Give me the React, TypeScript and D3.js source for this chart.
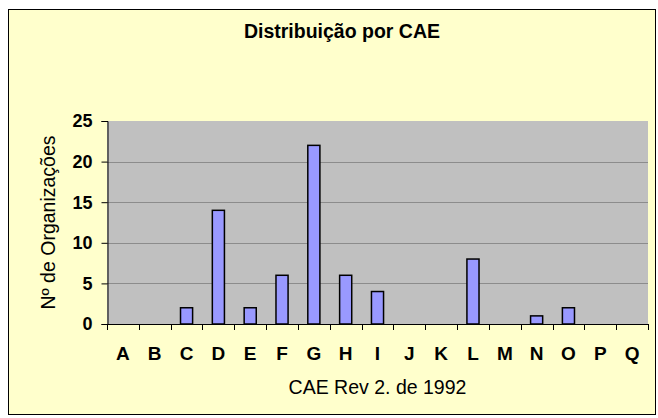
import React, { useEffect, useRef } from "react";
import * as d3 from "d3";

const categories = ["A", "B", "C", "D", "E", "F", "G", "H", "I", "J", "K", "L", "M", "N", "O", "P", "Q"];
const counts = [0, 0, 2, 14, 2, 6, 22, 6, 4, 0, 0, 8, 0, 1, 2, 0, 0];
const yTicks = [0, 5, 10, 15, 20, 25];

const App = () => {
    const svgRef = useRef<SVGSVGElement>(null);

    useEffect(() => {
        const width = 658, height = 418;
        const plot = { left: 107, right: 648, top: 121, bottom: 324 };
        const font = "Arial, 'Liberation Sans', sans-serif";

        const svg = d3.select(svgRef.current)
            .attr("width", width)
            .attr("height", height);

        svg.selectAll("*").remove();

        // chart area
        svg.append("rect")
            .attr("x", 8.5).attr("y", 9.5)
            .attr("width", 647).attr("height", 405)
            .attr("fill", "#FFFFCC")
            .attr("stroke", "#000").attr("stroke-width", 1);

        const x = d3.scaleBand()
            .domain(categories)
            .range([plot.left, plot.right])
            .paddingInner(0.62)
            .paddingOuter(0.31);

        const xTicks = d3.scaleBand()
            .domain(categories)
            .range([plot.left, plot.right]);

        const y = d3.scaleLinear()
            .domain([0, 25])
            .range([plot.bottom, plot.top]);

        // plot area
        svg.append("rect")
            .attr("x", plot.left).attr("y", plot.top)
            .attr("width", plot.right - plot.left)
            .attr("height", plot.bottom - plot.top)
            .attr("fill", "#C0C0C0");

        svg.append("g")
            .selectAll("line")
            .data(yTicks.filter(d => d > 0 && d < 25))
            .enter()
            .append("line")
            .attr("x1", plot.left).attr("x2", plot.right)
            .attr("y1", d => Math.round(y(d)) + 0.5)
            .attr("y2", d => Math.round(y(d)) + 0.5)
            .attr("stroke", "#8C8C8C")
            .attr("stroke-width", 1);

        // bars
        svg.append("g")
            .selectAll("rect")
            .data(categories.map((c, i) => ({ c, v: counts[i] })).filter(d => d.v > 0))
            .enter()
            .append("rect")
            .attr("x", d => x(d.c))
            .attr("y", d => y(d.v))
            .attr("width", x.bandwidth())
            .attr("height", d => y(0) - y(d.v))
            .attr("fill", "#9999FF")
            .attr("stroke", "#000")
            .attr("stroke-width", 1.5);

        // y axis
        const yAxis = svg.append("g")
            .attr("transform", `translate(${plot.left + 0.5},0)`)
            .call(d3.axisLeft(y).tickValues(yTicks).tickSize(6).tickPadding(9));
        yAxis.select(".domain").attr("stroke", "#000");
        yAxis.selectAll(".tick line").attr("stroke", "#000");
        yAxis.selectAll("text")
            .attr("dy", "0.33em")
            .attr("font-family", font)
            .attr("font-size", 18)
            .attr("font-weight", "bold")
            .attr("fill", "#000");

        // x axis
        svg.append("line")
            .attr("x1", plot.left).attr("x2", plot.right)
            .attr("y1", plot.bottom + 0.5).attr("y2", plot.bottom + 0.5)
            .attr("stroke", "#000");

        svg.append("g")
            .selectAll("line")
            .data(categories.concat(["_end"]))
            .enter()
            .append("line")
            .attr("x1", (d, i) => Math.round(plot.left + i * xTicks.step()) + 0.5)
            .attr("x2", (d, i) => Math.round(plot.left + i * xTicks.step()) + 0.5)
            .attr("y1", plot.bottom)
            .attr("y2", plot.bottom + 6)
            .attr("stroke", "#000");

        svg.append("g")
            .selectAll("text")
            .data(categories)
            .enter()
            .append("text")
            .attr("x", d => xTicks(d) + xTicks.bandwidth() / 2)
            .attr("y", 360)
            .attr("text-anchor", "middle")
            .attr("font-family", font)
            .attr("font-size", 19)
            .attr("font-weight", "bold")
            .text(d => d);

        // titles
        svg.append("text")
            .attr("x", 342).attr("y", 38)
            .attr("text-anchor", "middle")
            .attr("font-family", font)
            .attr("font-size", 19.5)
            .attr("font-weight", "bold")
            .text("Distribuição por CAE");

        svg.append("text")
            .attr("x", (plot.left + plot.right) / 2).attr("y", 394)
            .attr("text-anchor", "middle")
            .attr("font-family", font)
            .attr("font-size", 19.5)
            .text("CAE Rev 2. de 1992");

        svg.append("text")
            .attr("transform", `translate(55,${(plot.top + plot.bottom) / 2}) rotate(-90)`)
            .attr("text-anchor", "middle")
            .attr("font-family", font)
            .attr("font-size", 19.5)
            .text("Nº de Organizações");
    }, []);

    return <svg ref={svgRef} style={{ position: "absolute", left: 0, top: 0 }}></svg>;
};

export default App;
